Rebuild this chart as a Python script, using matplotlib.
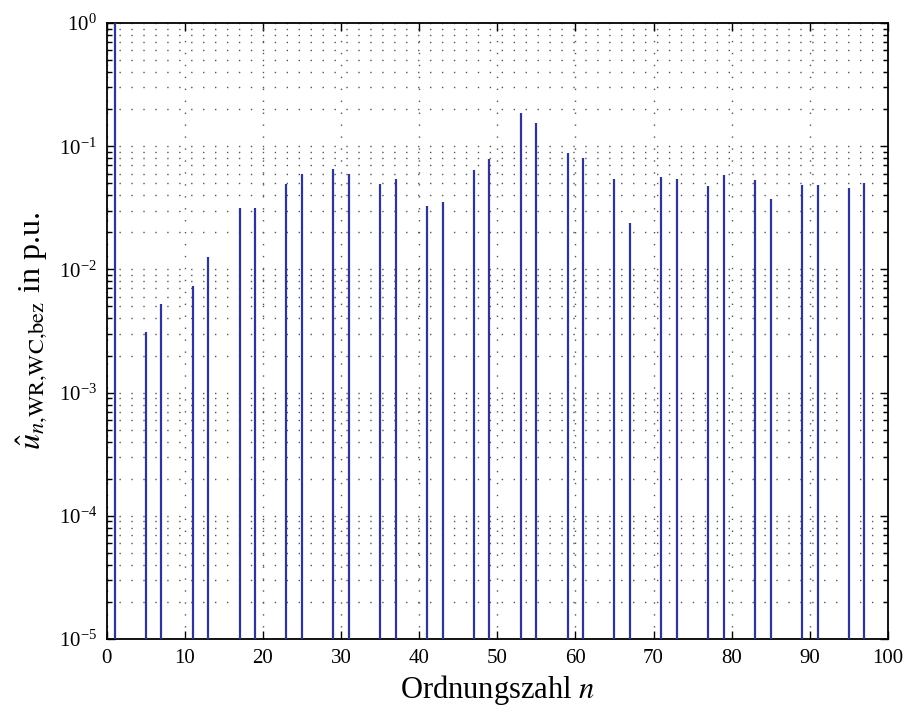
import matplotlib
matplotlib.use('Agg')
import matplotlib.pyplot as plt
import matplotlib.ticker as mticker
import numpy as np

# harmonic orders and amplitudes
ORDERS = [1, 5, 7, 11, 13, 17, 19, 23, 25, 29, 31, 35, 37, 41, 43, 47, 49,
          53, 55, 59, 61, 65, 67, 71, 73, 77, 79, 83, 85, 89, 91, 95, 97]
AMPS = [1.0, 0.0031, 0.0052, 0.0073, 0.0125, 0.0315, 0.0315, 0.049, 0.0595,
        0.0653, 0.0598, 0.049, 0.0542, 0.0325, 0.0352, 0.0637, 0.0792,
        0.185, 0.155, 0.0875, 0.0802, 0.0538, 0.0238, 0.0566, 0.0542,
        0.0472, 0.0584, 0.0532, 0.0371, 0.0487, 0.0487, 0.0455, 0.0506]
XTICKS = list(range(0, 101, 10))
YLIM = [1e-5, 1e0]

plt.rcParams['font.family'] = ['Liberation Serif', 'DejaVu Serif']
plt.rcParams['mathtext.fontset'] = 'stix'

fig = plt.figure(figsize=(9.05, 7.08), dpi=100)
ax = fig.add_axes([0.118, 0.0975, 0.863, 0.87])

ax.vlines(ORDERS, YLIM[0], AMPS, color='#2e3592', linewidth=1.6, zorder=3)

ax.set_yscale('log')
ax.set_xlim(0, 100)
ax.set_ylim(*YLIM)
ax.set_xticks(XTICKS)
ax.yaxis.set_major_locator(mticker.LogLocator(base=10, numticks=10))
ax.yaxis.set_minor_locator(mticker.LogLocator(base=10, subs=np.arange(2, 10), numticks=10))
ax.yaxis.set_minor_formatter(mticker.NullFormatter())

grid_style = dict(color='#555555', linewidth=1.0, linestyle=(0, (1, 7.6)))
ax.grid(True, which='major', axis='both', **grid_style)
ax.grid(True, which='minor', axis='y', **grid_style)

ax.tick_params(which='both', direction='in', top=True, right=True,
               labelsize=15, width=1.0)
ax.tick_params(which='major', length=6, pad=7)
ax.tick_params(which='minor', length=3.5)
for s in ax.spines.values():
    s.set_linewidth(1.3)

ax.set_xlabel(r'Ordnungszahl $n$', fontsize=22, labelpad=4)
ax.set_ylabel(r'$\hat{u}_{n{,}\mathrm{WR{,}WC{,}bez}}$ in p.u.', fontsize=23, labelpad=6)

plt.savefig('out.png', dpi=100)
